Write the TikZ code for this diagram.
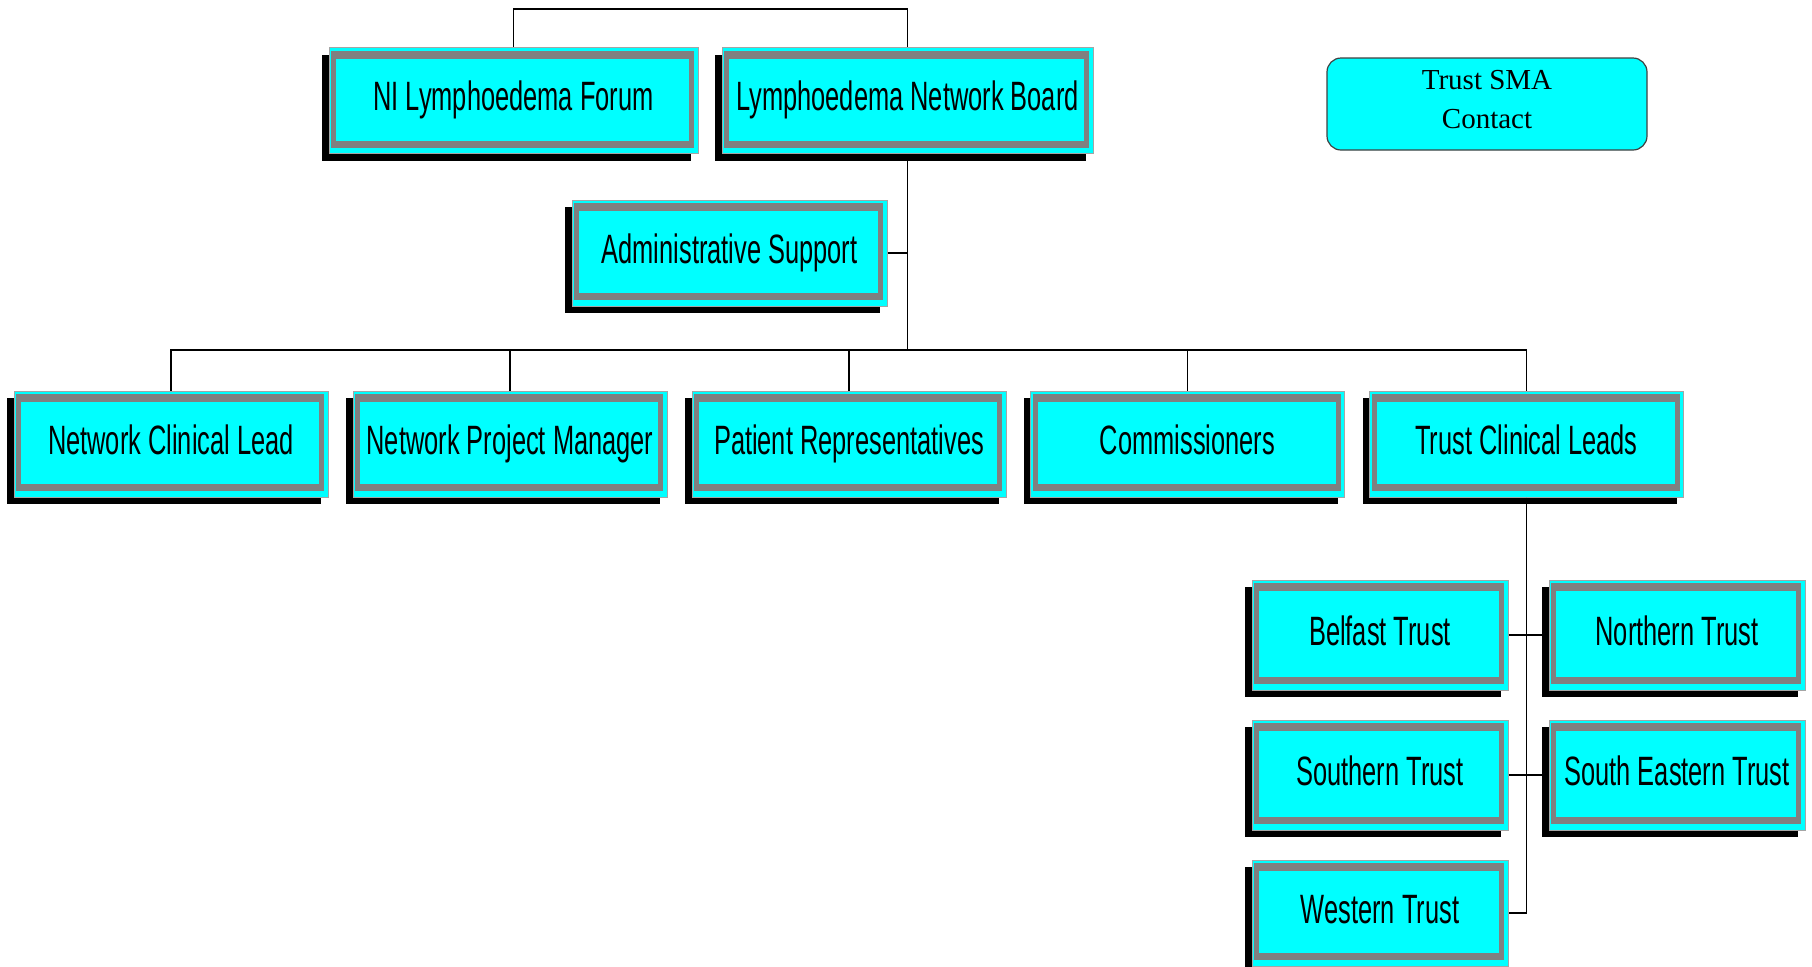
\documentclass[tikz,border=0pt]{standalone}
\usepackage{fontspec}
\setmainfont{Liberation Sans}[FakeStretch=0.62]
\newfontfamily\smafont{Liberation Serif}
\usepackage{tikz}
\definecolor{boxcyan}{RGB}{0,255,255}
\definecolor{framegray}{RGB}{128,128,128}
\definecolor{edgegray}{RGB}{165,165,165}
\tikzstyle{unit}=[draw=edgegray,line width=0.5pt,fill=boxcyan,inner sep=0pt,
  minimum width=157pt,minimum height=53pt,font=\fontsize{20.5}{24}\selectfont,
  text height=15pt,text depth=4.6pt,
  preaction={fill=black,transform canvas={shift={(-3.5pt,-3.5pt)}}},
  path picture={
    \fill[framegray] ([shift={(1pt,-1.5pt)}]path picture bounding box.north west)
      rectangle ([shift={(-2pt,3pt)}]path picture bounding box.south east);
    \fill[boxcyan] ([shift={(3.5pt,-5.5pt)}]path picture bounding box.north west)
      rectangle ([shift={(-4.5pt,6.5pt)}]path picture bounding box.south east);}]
\tikzstyle{trust}=[unit,minimum width=128pt,minimum height=55pt]
\tikzstyle{contact}=[draw=black!75,line width=0.6pt,fill=boxcyan,rounded corners=7pt,
  minimum width=160pt,minimum height=46pt,align=center,
  font=\smafont\fontsize{14.5}{19.5}\selectfont]
\tikzstyle{link}=[line width=0.7pt]

\begin{document}
\begin{tikzpicture}[x=0.5pt,y=-0.5pt]
\useasboundingbox (0,0) rectangle (1812,966);
% top level
\node[unit,minimum width=184.5pt] (forum) at (513.5,100.5) {NI Lymphoedema Forum};
\node[unit,minimum width=185.5pt] (board) at (907.5,100.5) {Lymphoedema Network Board};
\node[unit,minimum width=157.5pt] (admin) at (729.5,253) {Administrative Support};
\node[contact] (sma) at (1487,104) {Trust SMA\\Contact\\[-14.5pt]\mbox{}};
% network members
\node[unit] (ncl) at (171,444) {Network Clinical Lead};
\node[unit] (npm) at (510,444) {Network Project Manager};
\node[unit] (pr) at (849,444) {Patient Representatives};
\node[unit] (comm) at (1187.5,444) {Commissioners};
\node[unit] (tcl) at (1526.5,444) {Trust Clinical Leads};
% trusts
\node[trust] (belfast) at (1380,635) {Belfast Trust};
\node[trust] (northern) at (1677,635) {Northern Trust};
\node[trust] (southern) at (1380,775) {Southern Trust};
\node[trust] (seastern) at (1677,775) {South Eastern Trust};
\node[trust,minimum height=53pt] (western) at (1380,913) {Western Trust};
% connectors
\coordinate (top) at (710,9);
\coordinate (bus) at (907.5,350);
\draw[link] (forum.north) |- (top) -| (board.north);
\draw[link] (board.south) -- (bus);
\draw[link] (admin.east) -- (admin.east -| bus);
\foreach \n in {ncl,npm,pr,comm,tcl}
  \draw[link] (bus) -| (\n.north);
\draw[link] (tcl.south) |- (western.east);
\draw[link] (belfast.east) -- (northern.west);
\draw[link] (southern.east) -- (seastern.west);
\end{tikzpicture}
\end{document}
